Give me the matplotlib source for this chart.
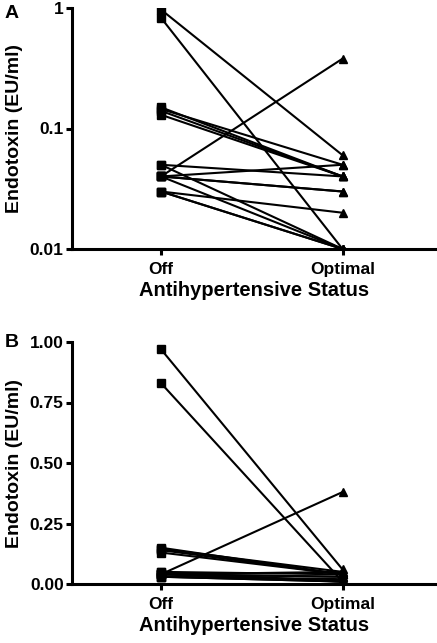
import numpy as np
import matplotlib.pyplot as plt

plt.rcParams['font.family'] = ['Liberation Sans', 'DejaVu Sans']
plt.rcParams['font.weight'] = 'bold'

# endotoxin (EU/ml) per subject, off treatment vs optimal treatment
off_vals = [0.97, 0.83, 0.15, 0.145, 0.14, 0.13, 0.05, 0.05,
            0.04, 0.04, 0.04, 0.04, 0.04, 0.03, 0.03, 0.03]
opt_vals = [0.06, 0.01, 0.04, 0.05, 0.04, 0.04, 0.04, 0.01,
            0.38, 0.05, 0.03, 0.03, 0.01, 0.02, 0.01, 0.01]
groups = ["Off", "Optimal"]

W, H = 437, 643
fig = plt.figure(figsize=(W / 100, H / 100), dpi=100)


def draw_panel(ax, log):
    xs = np.arange(len(groups))
    for a, b in zip(off_vals, opt_vals):
        ax.plot(xs, [a, b], color='black', lw=1.5, zorder=2)
    ax.plot(np.zeros(len(off_vals)), off_vals, 's', color='black', ms=6, zorder=3)
    ax.plot(np.ones(len(opt_vals)), opt_vals, '^', color='black', ms=6, zorder=3)
    ax.set_xlim(-0.49, 1.52)
    ax.set_xticks(xs)
    ax.set_xticklabels(groups, fontsize=13.5, fontweight='bold')
    for s in ['top', 'right']:
        ax.spines[s].set_visible(False)
    for s in ['left', 'bottom']:
        ax.spines[s].set_linewidth(2.2)
    ax.tick_params(width=2.2, length=4.5, labelsize=12.5, pad=1.5)
    ax.tick_params(axis='x', pad=5)
    ax.set_xlabel("Antihypertensive Status", fontsize=14.5, fontweight='bold', labelpad=3)
    ax.set_ylabel("Endotoxin (EU/ml)", fontsize=14, fontweight='bold')
    if log:
        ax.set_yscale('log')
        ax.set_ylim(0.01, 1)
        ax.set_yticks([0.01, 0.1, 1])
        ax.set_yticklabels(["0.01", "0.1", "1"])
        ax.minorticks_off()
    else:
        ax.set_ylim(0, 1)
        ax.set_yticks([0, 0.25, 0.5, 0.75, 1.0])
        ax.set_yticklabels(["0.00", "0.25", "0.50", "0.75", "1.00"])
    for lab in ax.get_yticklabels():
        lab.set_fontweight('bold')


axA = fig.add_axes([72 / W, 1 - 249 / H, (W - 72) / W, 241 / H])
draw_panel(axA, True)
axA.yaxis.set_label_coords(-0.135, 0.5)
fig.text(5 / W, 1 - 5 / H, "A", fontsize=14, fontweight='bold', va='top')

axB = fig.add_axes([72 / W, 1 - 584 / H, (W - 72) / W, 242 / H])
draw_panel(axB, False)
axB.yaxis.set_label_coords(-0.135, 0.5)
fig.text(5 / W, 1 - 334 / H, "B", fontsize=14, fontweight='bold', va='top')

fig.savefig("out.png", dpi=100)
